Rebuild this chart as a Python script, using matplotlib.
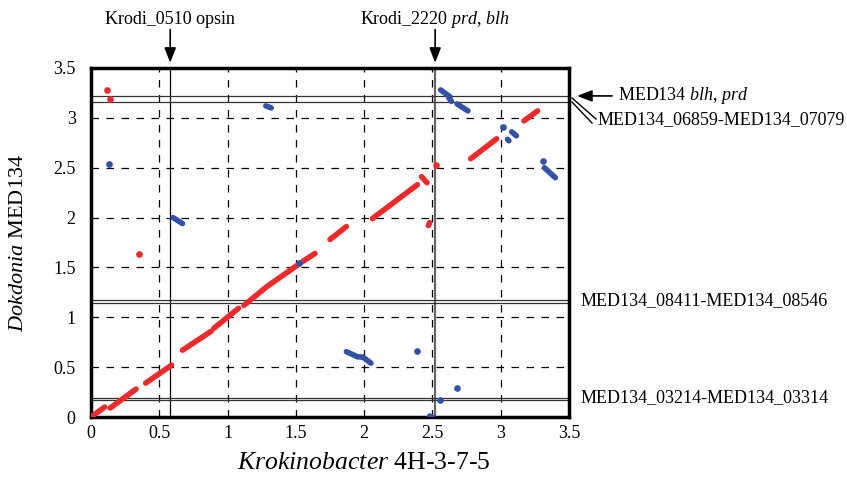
"""
Dot plot of Krokinobacter 4H-3-7-5 vs Dokdonia MED134 genomes
with marked loci (opsin / prd / blh regions).
"""

import matplotlib
matplotlib.use("Agg")
import matplotlib.pyplot as plt
from matplotlib.transforms import blended_transform_factory
from matplotlib.lines import Line2D


# -------------------------------------------------
# Data (Mb positions)
# -------------------------------------------------

# forward matches (red): runs of dots as (x0, y0, x1, y1)
red_runs = [
    (0.00, 0.00, 0.10, 0.10),
    (0.14, 0.09, 0.33, 0.28),
    (0.40, 0.34, 0.59, 0.52),
    (0.67, 0.67, 0.88, 0.86),
    (0.90, 0.89, 1.08, 1.09),
    (1.12, 1.12, 1.29, 1.31),
    (1.30, 1.32, 1.53, 1.54),
    (1.55, 1.56, 1.64, 1.64),
    (1.75, 1.78, 1.87, 1.91),
    (2.06, 1.99, 2.39, 2.33),
    (2.42, 2.41, 2.46, 2.35),
    (2.47, 1.92, 2.48, 1.95),
    (2.78, 2.59, 2.97, 2.79),
    (3.17, 2.97, 3.27, 3.07),
]
red_dots_x = [0.115, 0.14, 0.35, 2.525]
red_dots_y = [3.28, 3.19, 1.63, 2.53]

# inverted matches (blue)
blue_runs = [
    (0.60, 2.00, 0.67, 1.94),
    (1.28, 3.12, 1.32, 3.10),
    (1.87, 0.655, 1.95, 0.605),
    (1.95, 0.605, 1.99, 0.60),
    (1.99, 0.60, 2.05, 0.54),
    (2.48, 0.01, 2.50, 0.00),
    (2.56, 3.28, 2.63, 3.21),
    (2.62, 3.20, 2.64, 3.165),
    (2.68, 3.14, 2.76, 3.07),
    (3.05, 2.785, 3.06, 2.77),
    (3.08, 2.86, 3.115, 2.82),
    (3.32, 2.50, 3.40, 2.40),
]
blue_dots_x = [0.135, 1.52, 2.39, 2.68, 2.555, 3.015, 3.31]
blue_dots_y = [2.54, 1.545, 0.66, 0.29, 0.17, 2.91, 2.57]

# marked loci
krodi_loci_x = [0.58, 2.52]
krodi_loci_labels = [r"Krodi_0510 opsin", r"Krodi_2220 $\it{prd}$, $\it{blh}$"]
med_region_lines = [3.22, 3.16, 1.17, 1.14, 0.19, 0.175]

ticks = [0, 0.5, 1, 1.5, 2, 2.5, 3, 3.5]
tick_labels = ["0", "0.5", "1", "1.5", "2", "2.5", "3", "3.5"]

RED = "#ee2a2a"
BLUE = "#3352a6"


# -------------------------------------------------
# Plot
# -------------------------------------------------

plt.rcParams["font.family"] = "Liberation Serif"
plt.rcParams["mathtext.fontset"] = "custom"
plt.rcParams["mathtext.rm"] = "Liberation Serif"
plt.rcParams["mathtext.it"] = "Liberation Serif:italic"

fig = plt.figure(figsize=(8.47, 4.80), dpi=100)
ax = fig.add_axes([91 / 847, 63 / 480, 478 / 847, 349 / 480])

ax.set_xlim(0, 3.5)
ax.set_ylim(0, 3.5)
ax.set_xticks(ticks)
ax.set_xticklabels(tick_labels)
ax.set_yticks(ticks)
ax.set_yticklabels(tick_labels)
ax.tick_params(axis="both", length=0, labelsize=13)
ax.tick_params(axis="x", pad=6)
ax.tick_params(axis="y", pad=11)

# dashed grid
for v in ticks[1:-1]:
    ax.axvline(v, color="black", lw=0.9, ls=(0, (6, 6)), zorder=1)
    ax.axhline(v, color="black", lw=0.9, ls=(0, (6, 6)), zorder=1)

for sp in ax.spines.values():
    sp.set_linewidth(2.5)

# region lines
ax.axvline(krodi_loci_x[0], color="black", lw=0.9, zorder=2)
ax.axvline(krodi_loci_x[1], color="#666666", lw=1.6, zorder=2)
for yv in med_region_lines:
    ax.axhline(yv, color="#333333", lw=0.9, zorder=2)

# matches
for x0, y0, x1, y1 in red_runs:
    ax.plot([x0, x1], [y0, y1], color=RED, lw=4.0,
            solid_capstyle="round", zorder=3)
for x0, y0, x1, y1 in blue_runs:
    ax.plot([x0, x1], [y0, y1], color=BLUE, lw=4.0,
            solid_capstyle="round", zorder=3)
ax.plot(red_dots_x, red_dots_y, "o", color=RED, ms=4.8, mec="none", zorder=3)
ax.plot(blue_dots_x, blue_dots_y, "o", color=BLUE, ms=4.8, mec="none", zorder=4)

# axis labels
ax.set_xlabel(r"$\it{Krokinobacter}$ 4H-3-7-5", fontsize=18.5)
ax.xaxis.set_label_coords(0.571, -0.10)
ax.set_ylabel(r"$\it{Dokdonia}$ MED134", fontsize=16)
ax.yaxis.set_label_coords(-0.132, 0.5)

# top annotations: Krodi loci
top = blended_transform_factory(ax.transData, ax.transAxes)
for xv, label in zip(krodi_loci_x, krodi_loci_labels):
    ax.annotate("", xy=(xv, 1.015), xytext=(xv, 1.11),
                xycoords=top, textcoords=top, annotation_clip=False,
                arrowprops=dict(arrowstyle="-|>,head_length=0.9,head_width=0.35",
                                color="black", lw=1.2, shrinkA=0, shrinkB=0))
    ax.text(xv, 1.14, label, transform=top, ha="center", va="center",
            fontsize=13, clip_on=False)

# right annotations: MED134 regions
right = blended_transform_factory(ax.transAxes, ax.transData)
ax.annotate("", xy=(1.017, 3.22), xytext=(1.09, 3.22),
            xycoords=right, textcoords=right, annotation_clip=False,
            arrowprops=dict(arrowstyle="-|>,head_length=0.9,head_width=0.35",
                            color="black", lw=1.2, shrinkA=0, shrinkB=0))
ax.text(1.103, 3.22, r"MED134 $\it{blh}$, $\it{prd}$", transform=right,
        ha="left", va="center", fontsize=13, clip_on=False)
ax.text(1.06, 2.98, "MED134_06859-MED134_07079", transform=right,
        ha="left", va="center", fontsize=13, clip_on=False)
ax.text(1.025, 1.17, "MED134_08411-MED134_08546", transform=right,
        ha="left", va="center", fontsize=13, clip_on=False)
ax.text(1.025, 0.19, "MED134_03214-MED134_03314", transform=right,
        ha="left", va="center", fontsize=13, clip_on=False)

# double leader line to the 06859-07079 label (figure pixels)
px = lambda x, y: (x / 847, 1 - y / 480)
for (xa, ya), (xb, yb) in [((572, 98), (596, 119)), ((572, 102), (592, 123))]:
    fig.add_artist(Line2D([px(xa, ya)[0], px(xb, yb)[0]],
                          [px(xa, ya)[1], px(xb, yb)[1]],
                          transform=fig.transFigure, color="black", lw=1.0))

fig.savefig("out.png", dpi=100)
